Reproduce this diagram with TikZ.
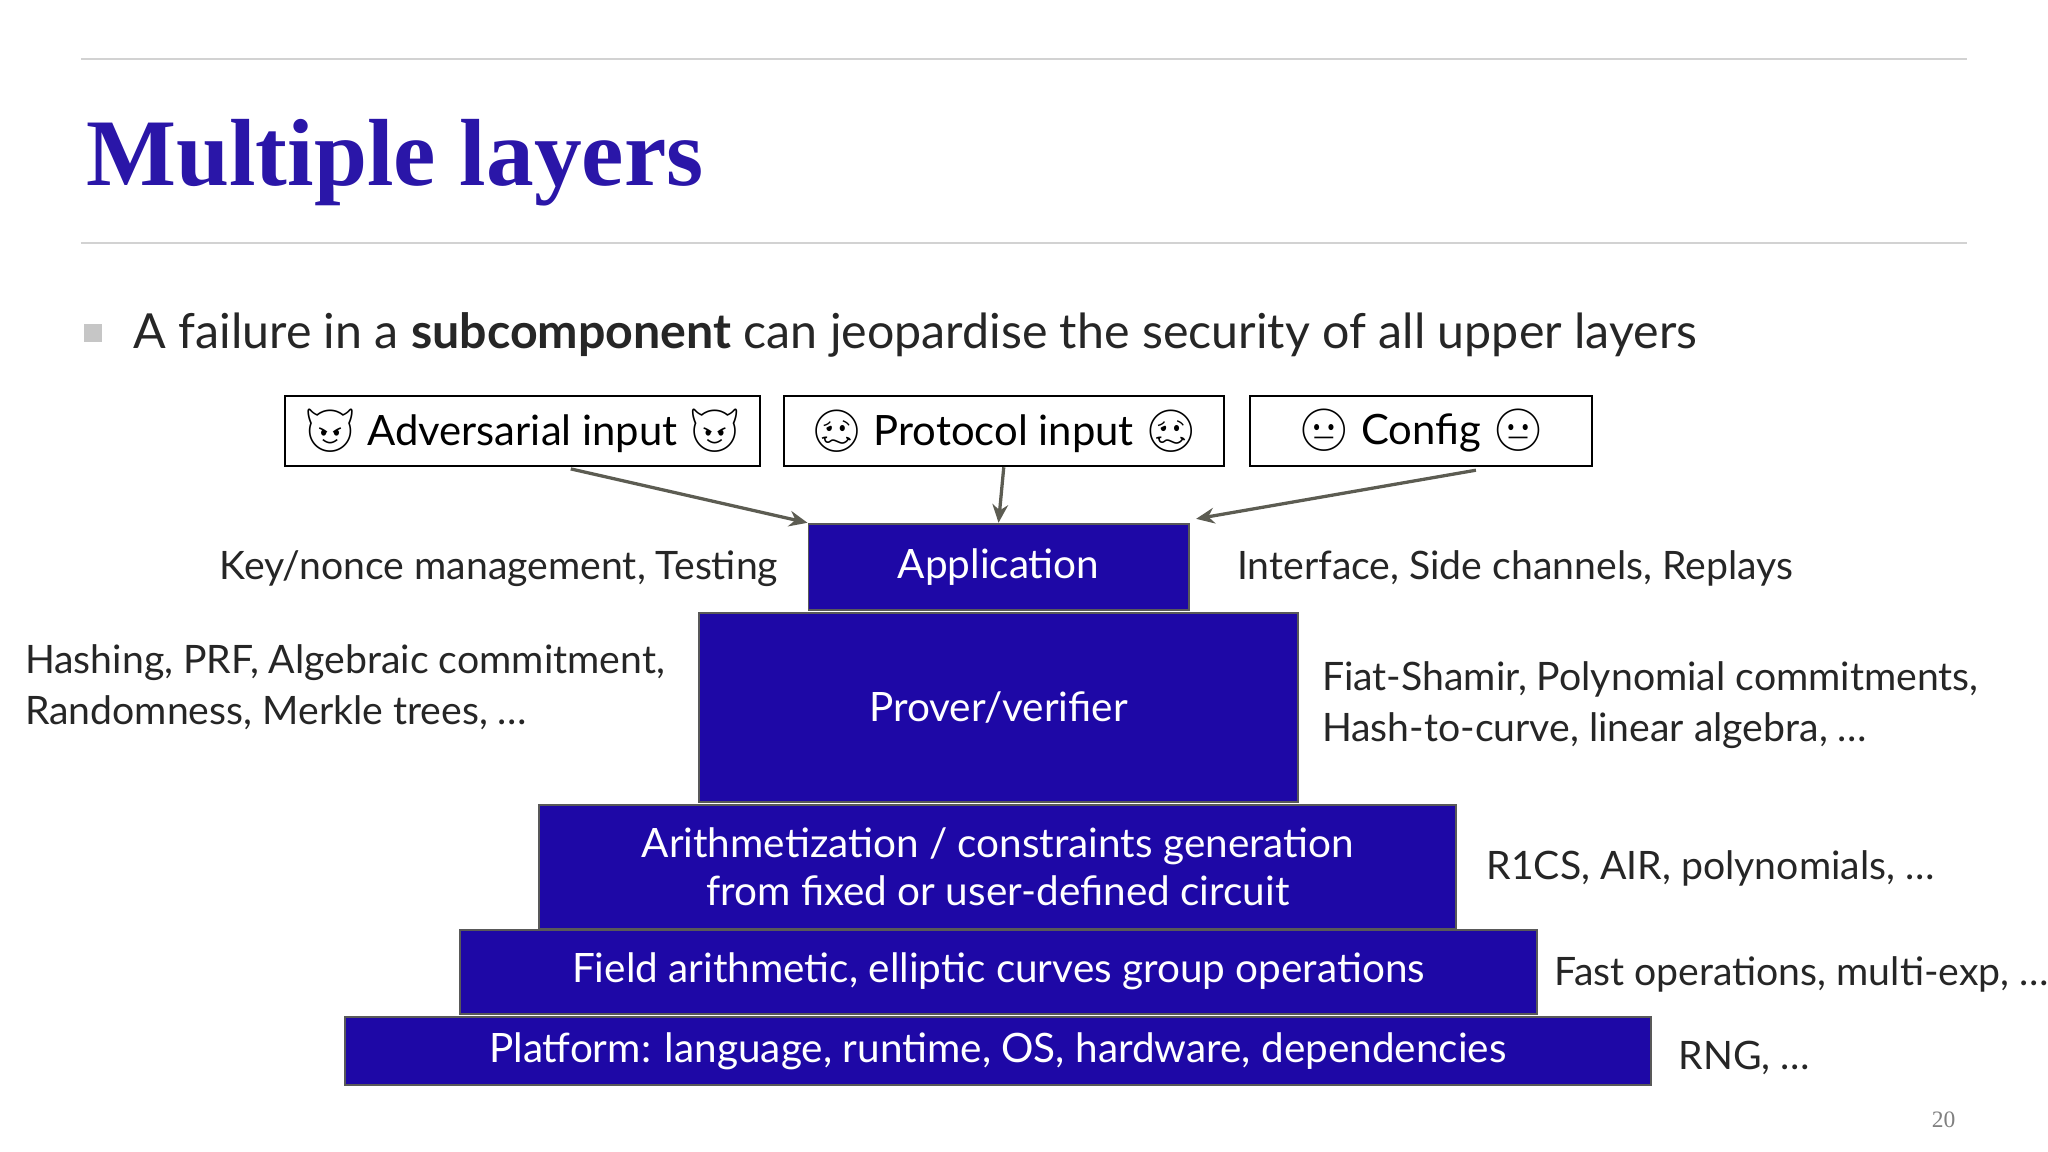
\documentclass[tikz,border=0pt]{standalone}
\usetikzlibrary{arrows.meta}
\usepackage{fontspec}
\setmainfont{Lato}
\newfontfamily\titlefont{Liberation Serif}
\newfontfamily\emo{Noto Emoji}
\definecolor{ttl}{HTML}{2A16A8}
\definecolor{boxb}{HTML}{1E08A6}
\definecolor{arr}{HTML}{5C5C52}
\begin{document}
\begin{tikzpicture}[x=1pt,y=-1pt,
  layer/.style={draw=gray!70!black,line width=1.5pt,fill=boxb,text=white,inner sep=0pt,align=center,font=\fontsize{31}{37}\selectfont},
  inbox/.style={draw=black,line width=1.5pt,fill=white,inner sep=0pt,font=\fontsize{32}{38}\selectfont},
  side/.style={inner sep=0pt,font=\fontsize{30}{39}\selectfont,text=black!85},
  arw/.style={draw=arr,line width=2.5pt,-{Stealth[length=14pt,width=12pt]}}]
\clip (0,0) rectangle (1568,882);
\fill[white] (0,0) rectangle (1568,882);
\draw[gray!35,line width=1.2pt] (62,45) -- (1506,45) (62,186) -- (1506,186);
\node[anchor=base west,inner sep=0pt,text=ttl,font=\titlefont\bfseries\fontsize{73}{90}\selectfont] (title) at (66,142) {Multiple layers};
\fill[gray!45] (64,248) rectangle (78,262);
\node[anchor=base west,inner sep=0pt,font=\fontsize{37}{42}\selectfont,text=black!85] (bullet) at (102,267) {A failure in a \textbf{subcomponent} can jeopardise the security of all upper layers};
\node[inbox,minimum width=364,minimum height=54] (adv) at (400,330) {{\emo 😈} Adversarial input {\emo 😈}};
\node[inbox,minimum width=337,minimum height=54] (prot) at (768.5,330) {{\emo 🥴} Protocol input {\emo 🥴}};
\node[inbox,minimum width=262,minimum height=54] (conf) at (1088,330) {{\emo 😐} Config {\emo 😐}};
\node[layer,minimum width=459,minimum height=145] (prov) at (764.5,541.5) {Prover/verifier};
\node[layer,minimum width=291,minimum height=66] (app) at (764.5,434) {Application};
\node[layer,minimum width=702,minimum height=95] (arith) at (764,663.5) {Arithmetization / constraints generation\\from fixed or user-defined circuit};
\node[layer,minimum width=825,minimum height=64] (field) at (764.5,744) {Field arithmetic, elliptic curves group operations};
\node[layer,minimum width=1000,minimum height=52] (plat) at (764,805) {Platform: language, runtime, OS, hardware, dependencies};
\coordinate (a1) at (437,359); \coordinate (a3) at (1130,360);
\draw[arw] (a1) -- (app.north west);
\draw[arw] (prot.south) -- (app.north);
\draw[arw] (a3) -- ([xshift=5pt,yshift=3pt]app.north east);
\node[side,anchor=east] (l1) at (596,435) {Key/nonce management, Testing};
\node[side,anchor=west] (r1) at (947,435) {Interface, Side channels, Replays};
\node[side,anchor=west,align=left] (l2) at (19,526) {Hashing, PRF, Algebraic commitment,\\Randomness, Merkle trees, \dots};
\node[side,anchor=west,align=left] (r2) at (1012,540) {Fiat-Shamir, Polynomial commitments,\\Hash-to-curve, linear algebra, \dots};
\node[side,anchor=west] (r3) at (1138,665) {R1CS, AIR, polynomials, \dots};
\node[side,anchor=west] (r4) at (1190,746) {Fast operations, multi-exp, \dots};
\node[side,anchor=west] (r5) at (1285,810) {RNG, \dots};
\node[inner sep=0pt,text=gray,font=\titlefont\fontsize{18}{20}\selectfont] (pg) at (1488,857) {20};
\end{tikzpicture}
\end{document}
